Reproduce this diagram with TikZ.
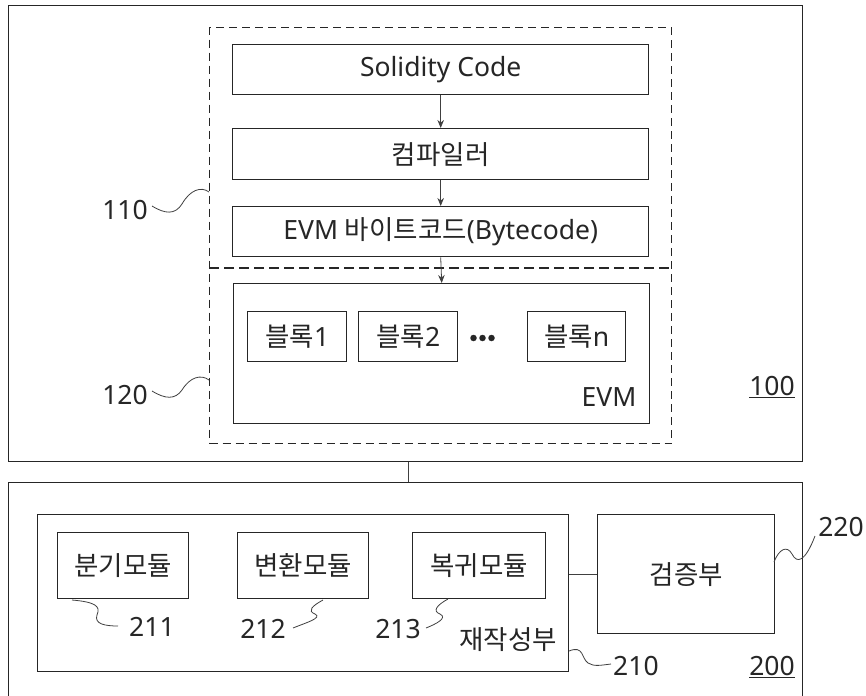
\documentclass[tikz,border=0pt]{standalone}
\usepackage{fontspec}
\setmainfont{Noto Sans}
\newfontfamily\kr{Noto Sans CJK KR}
\usetikzlibrary{arrows.meta}
\definecolor{ink}{HTML}{262626}
\definecolor{thin}{HTML}{404040}
\begin{document}
\begin{tikzpicture}[x=1pt,y=-1pt,
  font=\fontsize{26.5}{31}\selectfont, text=ink,
  box/.style={draw=ink, line width=1.4pt, inner sep=0pt, anchor=north west, align=center},
  dbox/.style={draw=ink, line width=1.2pt, dash pattern=on 8pt off 5pt, inner sep=0pt, anchor=north west},
  flow/.style={draw=thin, line width=0.8pt, -{Stealth[length=8pt,width=6.5pt]}},
  link/.style={draw=thin, line width=0.9pt},
  squig/.style={draw=thin, line width=0.8pt},
  lbl/.style={inner sep=0pt, anchor=center},
  dot/.style={circle, fill=ink, inner sep=0pt, minimum size=6.5pt}
]
\clip (0,0) rectangle (866,695);
\fill[white] (0,0) rectangle (866,695);

% ---------- upper unit 100 ----------
\node[box, minimum width=794pt, minimum height=456pt] (u100) at (8,5) {};
\node[dbox, minimum width=462pt, minimum height=416pt] (d110) at (209,27) {};
\coordinate (divL) at (209,268);
\coordinate (divR) at (671,268);
\draw[draw=ink, line width=2.4pt, dash pattern=on 10pt off 5pt] (divL) -- (divR);

\node[box, minimum width=416pt, minimum height=50pt] (sol) at (232,44) {Solidity Code};
\node[box, minimum width=416pt, minimum height=51pt] (comp) at (232,128) {{\kr 컴파일러}};
\node[box, minimum width=416pt, minimum height=50pt] (evmb) at (232,206) {EVM {\kr 바이트코드}(Bytecode)};
\node[box, minimum width=416pt, minimum height=140pt] (evm) at (233,283) {};

\node[box, minimum width=99pt, minimum height=50pt] (b1) at (247,311) {{\kr 블록}1};
\node[box, minimum width=99pt, minimum height=50pt] (b2) at (358,311) {{\kr 블록}2};
\node[box, minimum width=98pt, minimum height=50pt] (bn) at (527,311) {{\kr 블록}n};
\node[dot] (d1) at (473.5,338) {};
\node[dot] (d2) at (482.5,338) {};
\node[dot] (d3) at (491.5,338) {};
\node[lbl] (evmlbl) at (609,397) {EVM};

\draw[flow] (sol.south) -- (comp.north);
\draw[flow] (comp.south) -- (evmb.north);
\draw[flow] (evmb.south) -- (evm.north);

\node[lbl] (l100) at (772,386) {100};
\draw[ink, line width=1pt] ([yshift=-2pt]l100.south west) -- ([yshift=-2pt]l100.south east);

\node[lbl, anchor=east] (l110) at (148,210) {110};
\coordinate (a110) at (152,206);
\coordinate (t110) at (209,192);
\draw[squig] (a110) .. controls (165,214) and (175,215) .. (182,204) .. controls (190,190) and (201,186) .. (t110);
\node[lbl, anchor=east] (l120) at (148,395) {120};
\coordinate (a120) at (152,391);
\coordinate (t120) at (209,380);
\draw[squig] (a120) .. controls (165,399) and (175,400) .. (182,390) .. controls (190,377) and (201,374) .. (t120);

% ---------- lower unit 200 ----------
\node[box, minimum width=794pt, minimum height=240pt] (u200) at (8,482) {};
\draw[link] (u100.south -| 408,0) -- (u200.north -| 408,0);

\node[box, minimum width=531pt, minimum height=157pt] (r210) at (37,514) {};
\node[box, minimum width=131pt, minimum height=66pt] (m211) at (57,532) {{\kr 분기모듈}};
\node[box, minimum width=131pt, minimum height=66pt] (m212) at (237,532) {{\kr 변환모듈}};
\node[box, minimum width=133pt, minimum height=66pt] (m213) at (412,532) {{\kr 복귀모듈}};
\node[box, minimum width=177pt, minimum height=119pt] (v220) at (597,514) {{\kr 검증부}};
\draw[link] (r210.east |- 0,574) -- (v220.west |- 0,574);

\node[lbl] (rlbl) at (508,640) {{\kr 재작성부}};

\node[lbl, anchor=west] (l211) at (129,627) {211};
\coordinate (s211) at (72,600);
\coordinate (e211) at (118,626);
\draw[squig] (s211) .. controls (95,602) and (101,606) .. (97,615) .. controls (94,624) and (105,626) .. (e211);

\node[lbl, anchor=east] (l212) at (286,629) {212};
\coordinate (s212) at (323,600);
\coordinate (e212) at (293,628);
\draw[squig] (s212) .. controls (312,606) and (307,611) .. (315,614) .. controls (323,618) and (305,623) .. (e212);

\node[lbl, anchor=east] (l213) at (421,629) {213};
\coordinate (s213) at (448,599);
\coordinate (e213) at (426,628);
\draw[squig] (s213) .. controls (437,605) and (432,611) .. (440,614) .. controls (448,618) and (436,624) .. (e213);

\node[lbl, anchor=west] (l210) at (613,666) {210};
\coordinate (s210) at (569,651);
\coordinate (e210) at (611,664);
\draw[squig] (s210) .. controls (584,645) and (581,658) .. (588,663) .. controls (594,667) and (602,665) .. (e210);

\node[lbl] (l200) at (772,666) {200};
\draw[ink, line width=1pt] ([yshift=-2pt]l200.south west) -- ([yshift=-2pt]l200.south east);

\node[lbl, anchor=east] (l220) at (864,527) {220};
\coordinate (s220) at (774,562);
\coordinate (e220) at (815,536);
\draw[squig] (s220) .. controls (779,549) and (787,545) .. (792,554) .. controls (797,564) and (805,562) .. (e220);
\end{tikzpicture}
\end{document}
